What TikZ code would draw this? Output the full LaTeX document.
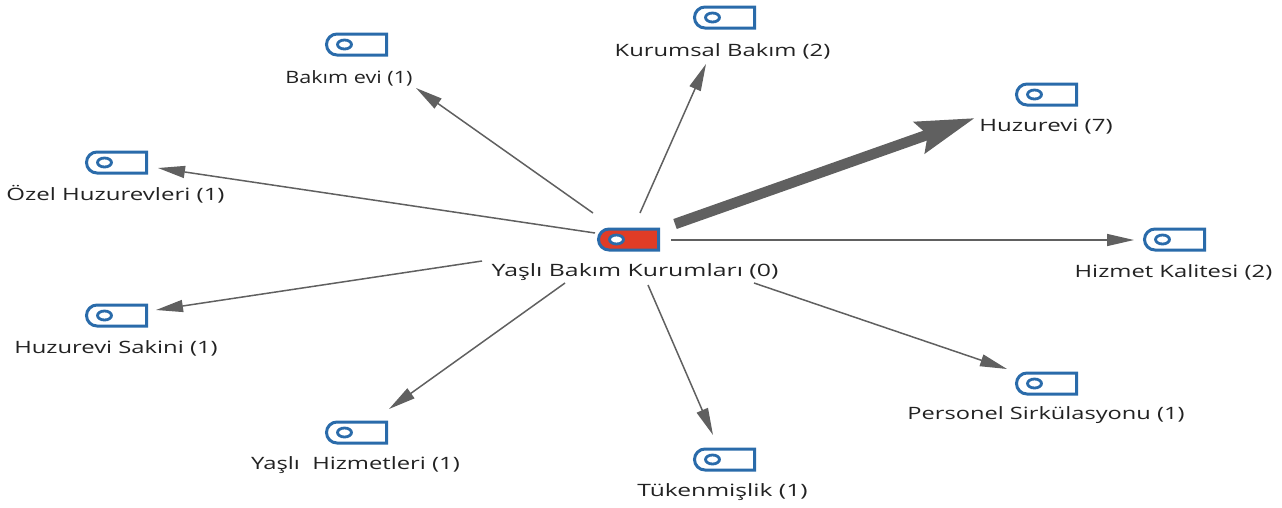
\documentclass[tikz,border=0pt]{standalone}
\usepackage{fontspec}
\setmainfont{Open Sans}
\usetikzlibrary{arrows.meta}
\definecolor{tagblue}{HTML}{2A6BAA}
\definecolor{tagred}{HTML}{E03C26}
\definecolor{linkgray}{HTML}{606060}
\definecolor{labelink}{HTML}{222222}
\tikzset{
  iconbox/.style={minimum width=61pt,minimum height=21pt,inner sep=0pt,outer sep=0pt},
  taglabel/.style={inner sep=0pt,outer sep=0pt,text=labelink,font=\fontsize{17}{20}\selectfont},
  link/.style={draw=linkgray,line width=1.5pt,-{Triangle[length=27pt,width=12pt]}},
  biglink/.style={draw=linkgray,line width=10.5pt,-{Stealth[length=58pt,width=32pt,inset=8pt]}}
}
\newcommand{\tagicon}[4]{%
  \node[iconbox] (#1) at (#2+31,#3+11.5) {};
  \begin{scope}[shift={(#1.center)}]
    \path[draw=tagblue,line width=3pt,fill=#4]
      (30.5,-10.5) -- (-19,-10.5) arc[start angle=270,end angle=90,radius=10.5] -- (30.5,10.5) -- cycle;
    \path[draw=tagblue,line width=2.8pt,fill=white] (-11.5,0) ellipse[x radius=7pt,y radius=4.5pt];
  \end{scope}
}
\newcommand{\lbl}[5][1.40]{\node[taglabel] (#2) at (#3,#4+1.5) {\scalebox{#1}[1]{#5}};}
\begin{document}
\begin{tikzpicture}[x=1pt,y=-1pt]
\useasboundingbox (0,0) rectangle (1282,507);
\tagicon{center}{597}{228}{tagred}
\tagicon{bakim}{325}{33}{white}
\tagicon{kurumsal}{693}{6}{white}
\tagicon{huzurevi}{1015}{83}{white}
\tagicon{ozel}{85}{151}{white}
\tagicon{hizmet}{1143}{228}{white}
\tagicon{sakini}{85}{304}{white}
\tagicon{personel}{1015}{372}{white}
\tagicon{yasli}{325}{421}{white}
\tagicon{tuken}{693}{448}{white}

\lbl[1.46]{lcenter}{635}{271}{Yaşlı Bakım Kurumları (0)}
\lbl[1.27]{lbakim}{349}{77}{Bakım evi (1)}
\lbl{lkurumsal}{722.5}{50}{Kurumsal Bakım (2)}
\lbl[1.417]{lhuzurevi}{1046}{125}{Huzurevi (7)}
\lbl[1.413]{lozel}{115.5}{193}{Özel Huzurevleri (1)}
\lbl{lhizmet}{1173.5}{271}{Hizmet Kalitesi (2)}
\lbl{lsakini}{116}{347}{Huzurevi Sakini (1)}
\lbl[1.39]{lpersonel}{1046}{414}{Personel Sirkülasyonu (1)}
\lbl{lyasli}{355.5}{464}{Yaşlı\ \ Hizmetleri (1)}
\lbl[1.45]{ltuken}{722.5}{491}{Tükenmişlik (1)}

\coordinate (s1) at (593,213); \coordinate (e1) at (416,88);
\coordinate (s2) at (640,213); \coordinate (e2) at (706,64);
\coordinate (s3) at (675,224); \coordinate (e3) at (975,118);
\coordinate (s4) at (595,233); \coordinate (e4) at (158,168);
\coordinate (s5) at (671,240); \coordinate (e5) at (1134,240);
\coordinate (s6) at (482,261); \coordinate (e6) at (156,310);
\coordinate (s7) at (565,283); \coordinate (e7) at (389,409);
\coordinate (s8) at (648,285); \coordinate (e8) at (713,435);
\coordinate (s9) at (754,283); \coordinate (e9) at (1007,369);
\draw[link] (s1) -- (e1);
\draw[link] (s2) -- (e2);
\draw[biglink] (s3) -- (e3);
\draw[link] (s4) -- (e4);
\draw[link] (s5) -- (e5);
\draw[link] (s6) -- (e6);
\draw[link] (s7) -- (e7);
\draw[link] (s8) -- (e8);
\draw[link] (s9) -- (e9);
\end{tikzpicture}
\end{document}
